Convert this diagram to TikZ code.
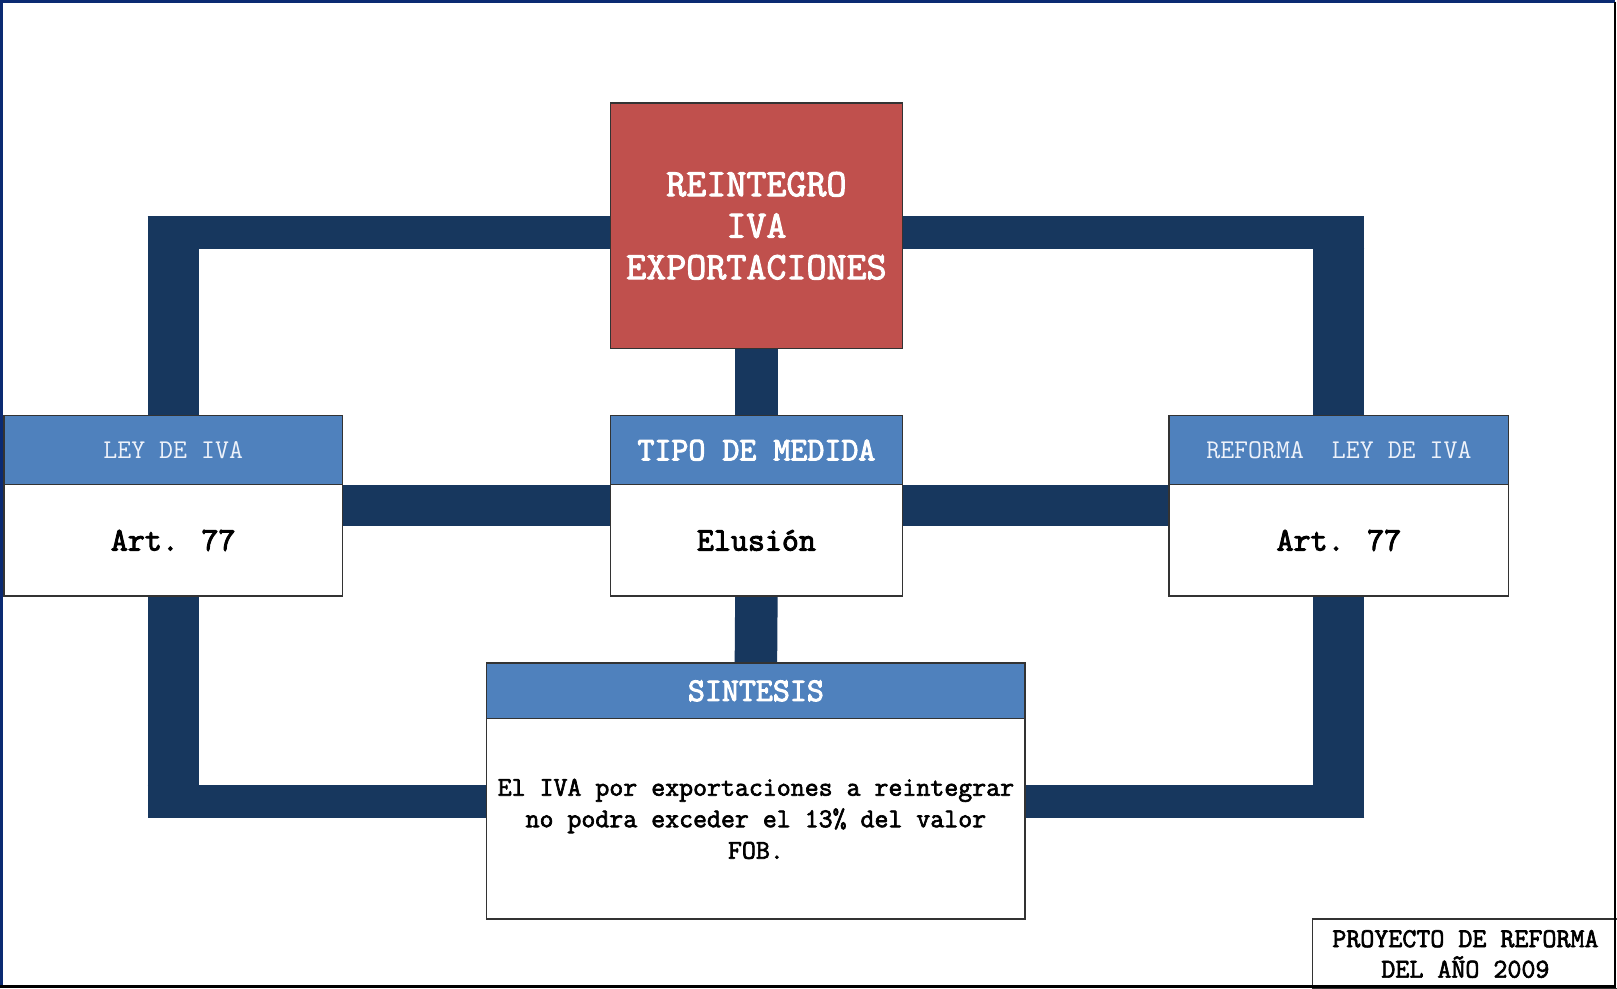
\documentclass[tikz,border=0pt]{standalone}
\usepackage{fontspec}
\newfontfamily\typeheavy{Latin Modern Mono}[FakeBold=3]
\newfontfamily\typebold{Latin Modern Mono}[FakeBold=2.4]
\newfontfamily\typeplain{Latin Modern Mono}
\usetikzlibrary{calc,backgrounds}

\definecolor{navybar}{HTML}{17375E}
\definecolor{headblue}{HTML}{4F81BD}
\definecolor{titlered}{HTML}{C0504D}
\definecolor{framenavy}{HTML}{0B2A72}
\definecolor{headtext}{HTML}{EEF2FA}

\tikzset{
  box/.style={rectangle, draw=black!80, line width=1.2pt, inner sep=0pt, outer sep=0pt, align=center},
  headbox/.style={box, fill=headblue},
  bodybox/.style={box, fill=white},
  titlebox/.style={box, fill=titlered, text=white, font=\typebold\fontsize{38.9}{41.5}\selectfont},
  bigtxt/.style={font=\typeheavy\fontsize{33.0}{34}\selectfont},
  smalltxt/.style={font=\typeplain\fontsize{27.1}{31.5}\selectfont},
  smallbold/.style={font=\typebold\fontsize{27.1}{31.5}\selectfont},
  hbar/.style={draw=navybar, line width=33pt},
  vbar/.style={draw=navybar, line width=51pt},
  midbar/.style={draw=navybar, line width=41pt},
  stub/.style={draw=navybar, line width=42.5pt},
}

\begin{document}
\begin{tikzpicture}[x=1pt, y=-1pt]
\useasboundingbox (0,0) rectangle (1617,988);

% corner points of the outer loop
\coordinate (tl) at (147.7,232);
\coordinate (tr) at (1364.4,232);
\coordinate (bl) at (147.7,801.3);
\coordinate (br) at (1364.4,801.3);
\coordinate (mid) at (0,505.2);

% boxes
\node[titlebox, minimum width=291.8pt, minimum height=245.6pt] (red) at (756.4,225.8)
  {REINTEGRO\\IVA\\EXPORTACIONES};

\node[headbox, minimum width=338.4pt, minimum height=69.1pt, text=headtext, smalltxt] (lefth) at (173.2,450.2) {LEY DE IVA};
\node[bodybox, minimum width=338.4pt, minimum height=111.3pt, bigtxt] (leftb) at (173.2,540.4) {Art. 77};

\node[headbox, minimum width=291.8pt, minimum height=69.1pt, text=white, bigtxt] (tipoh) at (756.4,450.2) {TIPO DE MEDIDA};
\node[bodybox, minimum width=291.8pt, minimum height=111.3pt, bigtxt] (tipob) at (756.4,540.4) {Elusión};

\node[headbox, minimum width=339.7pt, minimum height=69.1pt, text=headtext, smalltxt] (righth) at (1338.9,450.2) {REFORMA\ \ LEY DE IVA};
\node[bodybox, minimum width=339.7pt, minimum height=111.3pt, bigtxt] (rightb) at (1338.9,540.4) {Art. 77};

\node[headbox, minimum width=538.3pt, minimum height=55.8pt, text=white, bigtxt] (sinth) at (755.9,690.9) {SINTESIS};
\node[bodybox, minimum width=538.3pt, minimum height=200.2pt, smallbold] (sintb) at (755.9,818.9)
  {El IVA por exportaciones a reintegrar\\no podra exceder el 13\% del valor\\FOB.};

\node[bodybox, minimum width=305.2pt, minimum height=70pt, font=\typebold\fontsize{27.2}{30.5}\selectfont] (proy) at (1465.4,954)
  {PROYECTO DE REFORMA\\DEL AÑO 2009};

% connecting bars, drawn underneath the boxes
\begin{pgfonlayer}{background}
  \fill[white] (0,0) rectangle (1617,988);
  % outer loop
  \draw[hbar] (tl) -- (tl -| red.west);
  \draw[hbar] (tr) -- (tr -| red.east);
  \draw[vbar] (lefth.north) -- (lefth.north |- tl);
  \draw[vbar] (righth.north) -- (righth.north |- tr);
  \draw[hbar] (bl) -- (bl -| sintb.west);
  \draw[hbar] (br) -- (br -| sintb.east);
  \draw[vbar] (leftb.south) -- (leftb.south |- bl);
  \draw[vbar] (rightb.south) -- (rightb.south |- br);
  % middle row
  \draw[midbar] (leftb.east |- mid) -- (tipob.west |- mid);
  \draw[midbar] (tipob.east |- mid) -- (rightb.west |- mid);
  % vertical stubs through the centre
  \draw[stub] (red.south) -- (tipoh.north);
  \draw[stub] (tipob.south) -- (sinth.north);
\end{pgfonlayer}

% page frame
\draw[framenavy, line width=2.5pt] (1.5,988) -- (1.5,1.5) -- (1615,1.5);
\draw[black, line width=2.5pt] (1615,1.5) -- (1615,986.5) -- (0,986.5);

\end{tikzpicture}
\end{document}
